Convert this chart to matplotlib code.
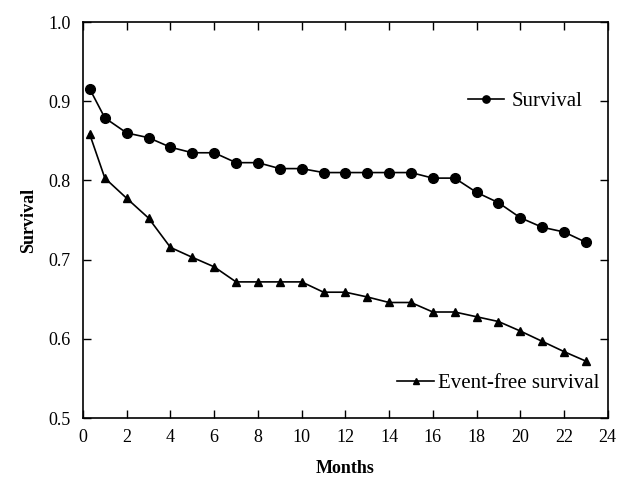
import numpy as np
import matplotlib.pyplot as plt

plt.rcParams['font.family'] = ['Liberation Serif', 'DejaVu Serif']

months = [0.3, 1, 2, 3, 4, 5, 6, 7, 8, 9, 10, 11, 12, 13, 14, 15, 16, 17, 18, 19, 20, 21, 22, 23]
survival = [0.916, 0.879, 0.860, 0.854, 0.842, 0.835, 0.835, 0.8225, 0.8225, 0.815, 0.815,
            0.810, 0.810, 0.810, 0.810, 0.810, 0.803, 0.803, 0.785, 0.772, 0.753, 0.741, 0.735, 0.722]
event_free = [0.859, 0.803, 0.7775, 0.7525, 0.7155, 0.703, 0.691, 0.672, 0.672, 0.672, 0.672,
              0.659, 0.659, 0.653, 0.646, 0.646, 0.634, 0.634, 0.628, 0.622, 0.610, 0.597, 0.584, 0.572]

fig = plt.figure(figsize=(6.17, 4.79), dpi=100)
ax = fig.add_axes([0.1345, 0.127, 0.8505, 0.827])

l1, = ax.plot(months, survival, "k-", marker="o", markersize=7, linewidth=1.2, label="Survival")
l2, = ax.plot(months, event_free, "k-", marker="^", markersize=6, linewidth=1.2, label="Event-free survival")

ax.set_xlim(0, 24)
ax.set_ylim(0.5, 1.0)
ax.set_xticks(np.arange(0, 25, 2))
ax.set_yticks(np.arange(0.5, 1.01, 0.1))
ax.set_yticklabels(["0.5", "0.6", "0.7", "0.8", "0.9", "1.0"])
ax.tick_params(direction="in", top=True, right=True, length=6, width=1, labelsize=13)
ax.tick_params(axis="y", pad=9)
ax.tick_params(axis="x", pad=8)
for s in ax.spines.values():
    s.set_linewidth(1.2)

ax.set_xlabel("Months", fontsize=13, fontweight="bold", labelpad=10)
ax.set_ylabel("Survival", fontsize=13, fontweight="bold", labelpad=8)

# two separate legends, no frame
leg1 = ax.legend(handles=[l1], loc="center right", bbox_to_anchor=(0.951, 0.80), frameon=False,
                 fontsize=15, handlelength=1.7, handletextpad=0.35, borderpad=0, borderaxespad=0,
                 markerscale=0.75)
ax.add_artist(leg1)
ax.legend(handles=[l2], loc="center right", bbox_to_anchor=(0.985, 0.088), frameon=False,
          fontsize=15, handlelength=1.8, handletextpad=0.2, borderpad=0, borderaxespad=0,
          markerscale=0.75)

fig.savefig("out.png", dpi=100)
